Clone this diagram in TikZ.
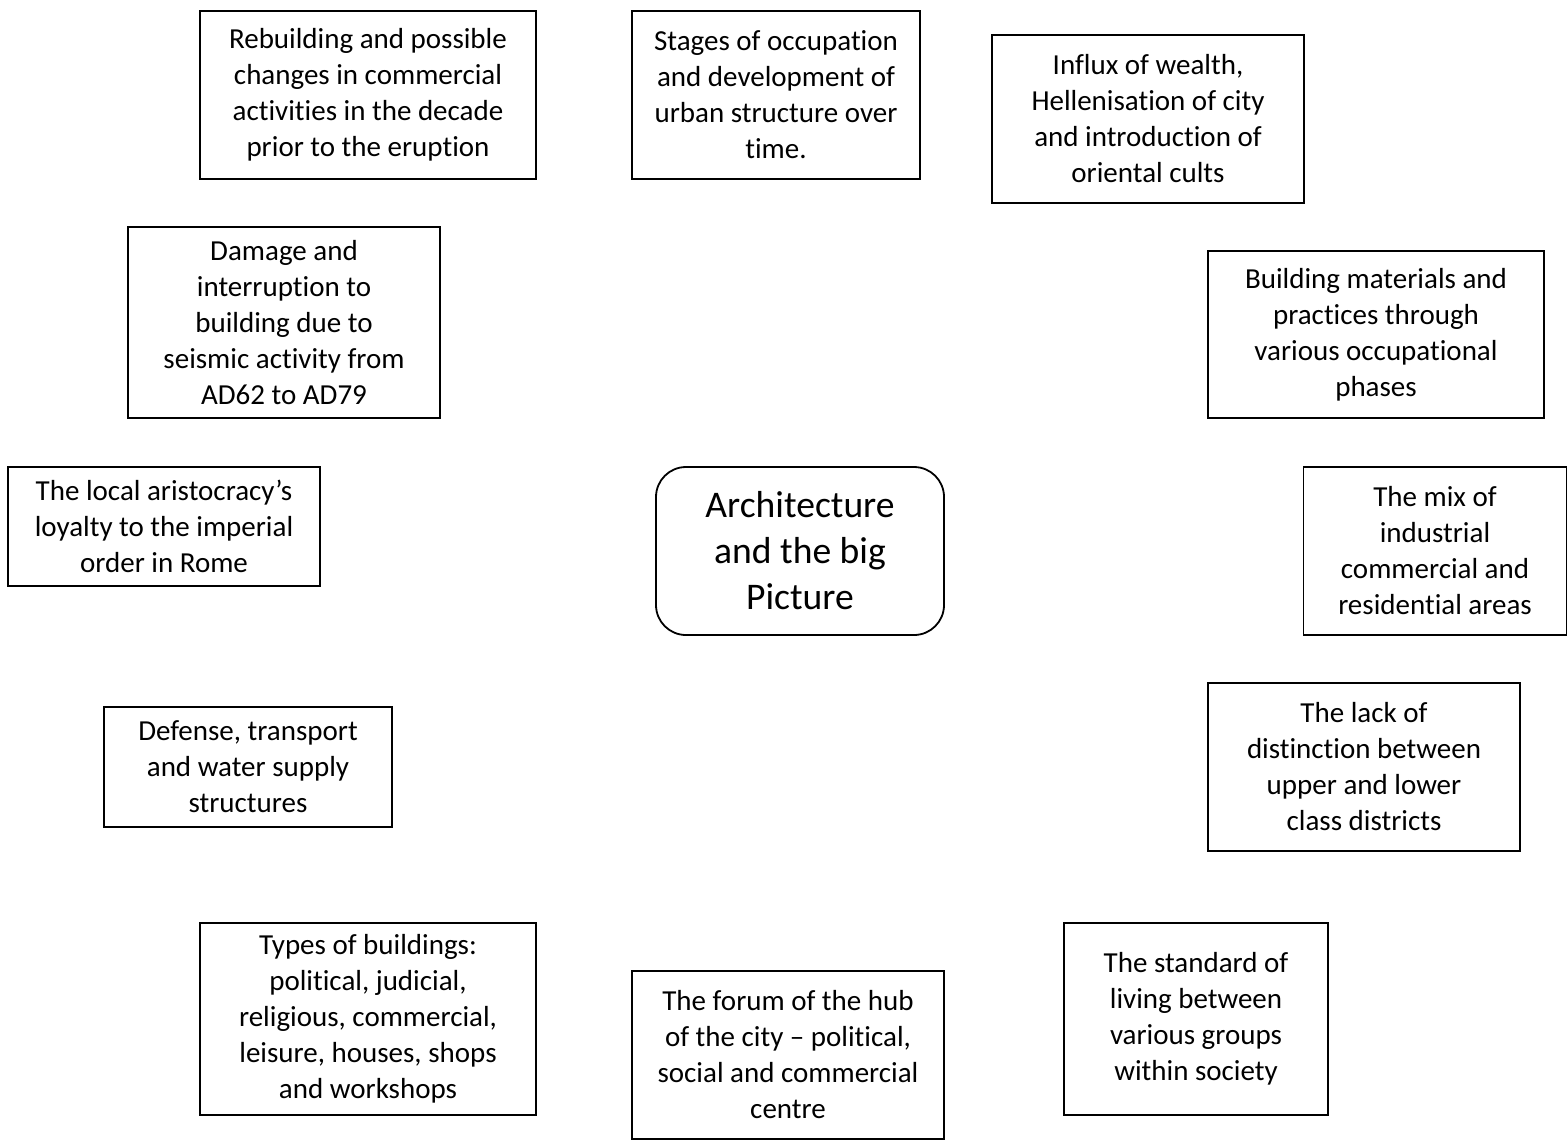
\documentclass[tikz,border=0pt]{standalone}
\usepackage{fontspec}
\setmainfont{Carlito}[Ligatures=NoCommon]
\usetikzlibrary{positioning}
\tikzset{
  topic/.style={draw, line width=0.9pt, align=center, inner sep=0pt,
    font=\fontsize{14.5}{18}\selectfont},
  hub/.style={topic, rounded corners=15pt, font=\fontsize{18.8}{23}\selectfont}
}

\begin{document}
\begin{tikzpicture}[x=0.5pt,y=-0.5pt]
  \useasboundingbox (0,0) rectangle (1567,1142);

  % Centre
  \node[hub, minimum width=144pt, minimum height=84pt] (big) at (800,551)
    {Architecture\\and the big\\Picture};

  % Top row
  \node[topic, minimum width=168pt, minimum height=84pt] (rebuild) at (368,95)
    {Rebuilding and possible\\changes in commercial\\activities in the decade\\prior to the eruption};
  \node[topic, minimum width=144pt, minimum height=84pt] (stages) at (776,95)
    {Stages of occupation\\and development of\\urban structure over\\time.};
  \node[topic, minimum width=156pt, minimum height=84pt] (influx) at (1148,119)
    {Influx of wealth,\\Hellenisation of city\\and introduction of\\oriental cults};

  % Left side
  \node[topic, minimum width=156pt, minimum height=95.5pt] (damage) at (284,322.5)
    {Damage and\\interruption to\\building due to\\seismic activity from\\AD62 to AD79};
  \node[topic, minimum width=156pt, minimum height=59.5pt] (loyalty) at (164,526.5)
    {The local aristocracy’s\\loyalty to the imperial\\order in Rome};
  \node[topic, minimum width=144pt, minimum height=60pt] (defense) at (248,767)
    {Defense, transport\\and water supply\\structures};

  % Right side
  \node[topic, minimum width=168pt, minimum height=83.5pt] (materials) at (1376,334.5)
    {Building materials and\\practices through\\various occupational\\phases};
  \node[topic, minimum width=131.5pt, minimum height=84pt] (mix) at (1435,551)
    {The mix of\\industrial\\commercial and\\residential areas};
  \node[topic, minimum width=156pt, minimum height=84pt] (lack) at (1364,767)
    {The lack of\\distinction between\\upper and lower\\class districts};

  % Bottom row
  \node[topic, minimum width=168pt, minimum height=96pt] (types) at (368,1019)
    {Types of buildings:\\political, judicial,\\religious, commercial,\\leisure, houses, shops\\and workshops};
  \node[topic, minimum width=156pt, minimum height=84pt] (forum) at (788,1055)
    {The forum of the hub\\of the city -- political,\\social and commercial\\centre};
  \node[topic, minimum width=132pt, minimum height=96pt] (living) at (1196,1019)
    {The standard of\\living between\\various groups\\within society};
\end{tikzpicture}
\end{document}
